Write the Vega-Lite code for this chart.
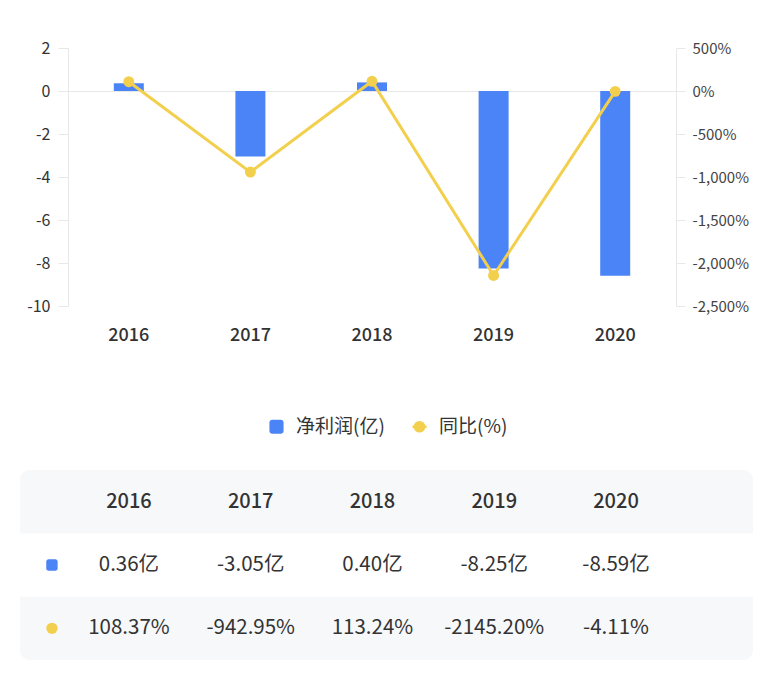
{
  "$schema": "https://vega.github.io/schema/vega-lite/v6.json",
  "background": "white",
  "padding": {"left": 20, "top": 40, "right": 0, "bottom": 0},
  "config": {
    "view": {"stroke": null},
    "font": "Noto Sans CJK SC",
    "axis": {"labelFont": "Noto Sans CJK SC", "titleFont": "Noto Sans CJK SC"},
    "legend": {"labelFont": "Noto Sans CJK SC"},
    "text": {"font": "Noto Sans CJK SC"}
  },
  "datasets": {
    "main": [
      {"year": "2016", "profit": 0.36, "yoy": 108.37},
      {"year": "2017", "profit": -3.05, "yoy": -942.95},
      {"year": "2018", "profit": 0.40, "yoy": 113.24},
      {"year": "2019", "profit": -8.25, "yoy": -2145.20},
      {"year": "2020", "profit": -8.59, "yoy": -4.11}
    ],
    "table": [
      {"year": "2016", "row": "header", "label": "2016"},
      {"year": "2017", "row": "header", "label": "2017"},
      {"year": "2018", "row": "header", "label": "2018"},
      {"year": "2019", "row": "header", "label": "2019"},
      {"year": "2020", "row": "header", "label": "2020"},
      {"year": "2016", "row": "profit", "label": "0.36亿"},
      {"year": "2017", "row": "profit", "label": "-3.05亿"},
      {"year": "2018", "row": "profit", "label": "0.40亿"},
      {"year": "2019", "row": "profit", "label": "-8.25亿"},
      {"year": "2020", "row": "profit", "label": "-8.59亿"},
      {"year": "2016", "row": "yoy", "label": "108.37%"},
      {"year": "2017", "row": "yoy", "label": "-942.95%"},
      {"year": "2018", "row": "yoy", "label": "113.24%"},
      {"year": "2019", "row": "yoy", "label": "-2145.20%"},
      {"year": "2020", "row": "yoy", "label": "-4.11%"}
    ],
    "dots": [
      {"row": "profit", "series": "净利润(亿)"},
      {"row": "yoy", "series": "同比(%)"}
    ]
  },
  "resolve": {"scale": {"color": "independent", "shape": "independent"}},
  "spacing": 33,
  "vconcat": [
    {
      "spacing": 0,
      "resolve": {"scale": {"color": "independent"}},
      "hconcat": [
        {
          "width": 1,
          "height": 1,
          "data": {"values": []},
          "mark": {"type": "text"},
          "encoding": {}
        },
        {
          "width": 608,
          "height": 258,
          "data": {"name": "main"},
          "resolve": {"scale": {"y": "independent"}},
          "layer": [
            {
              "mark": {"type": "bar", "size": 30},
              "encoding": {
                "x": {
                  "field": "year", "type": "ordinal",
                  "scale": {"type": "band", "paddingInner": 0, "paddingOuter": 0},
                  "axis": {"title": null, "labelAngle": 0, "domain": false, "ticks": false, "grid": false,
                           "labelPadding": 20, "labelFontSize": 18, "labelColor": "#333", "labelFontWeight": 500}
                },
                "y": {
                  "field": "profit", "type": "quantitative",
                  "scale": {"domain": [-10, 2], "nice": false},
                  "axis": {
                    "title": null, "orient": "left",
                    "values": [-10, -8, -6, -4, -2, 0, 2],
                    "labelExpr": "replace(datum.label, '\u2212', '-')",
                    "labelFontSize": 16, "labelColor": "#333", "labelPadding": 8,
                    "domainColor": "#e8e8e8", "tickColor": "#e8e8e8", "tickSize": 10,
                    "minExtent": 47, "maxExtent": 47,
                    "grid": true, "gridColor": "#e8e8e8",
                    "gridOpacity": {"condition": {"test": "datum.value === 0", "value": 1}, "value": 0}
                  }
                },
                "color": {
                  "datum": "净利润(亿)", "type": "nominal",
                  "scale": {"domain": ["净利润(亿)", "同比(%)"], "range": ["#4b84f6", "#f3cf4e"]},
                  "legend": {
                    "title": null, "orient": "none", "direction": "horizontal",
                    "legendX": 199, "legendY": 369,
                    "labelFontSize": 19, "labelColor": "#333", "labelOffset": 10,
                    "symbolSize": 200, "columnPadding": 22,
                    "encode": {
                      "symbols": {
                        "update": {
                          "shape": {"signal": "datum.value === '同比(%)' ? 'M-1,0L1,0M0.65,0A0.65,0.65,0,1,1,-0.65,0A0.65,0.65,0,1,1,0.65,0Z' : 'M-0.6,-1H0.6A0.4,0.4,0,0,1,1,-0.6V0.6A0.4,0.4,0,0,1,0.6,1H-0.6A0.4,0.4,0,0,1,-1,0.6V-0.6A0.4,0.4,0,0,1,-0.6,-1Z'"},
                          "fill": {"signal": "datum.value === '同比(%)' ? '#f3cf4e' : '#4b84f6'"},
                          "stroke": {"signal": "datum.value === '同比(%)' ? '#f3cf4e' : '#4b84f6'"},
                          "strokeWidth": {"signal": "datum.value === '同比(%)' ? 2.5 : 0"},
                          "opacity": {"value": 1},
                          "fillOpacity": {"value": 1}
                        }
                      }
                    }
                  }
                }
              }
            },
            {
              "mark": {"type": "line", "strokeWidth": 3, "point": {"filled": true, "size": 120, "opacity": 1}},
              "encoding": {
                "x": {"field": "year", "type": "ordinal"},
                "y": {
                  "field": "yoy", "type": "quantitative",
                  "scale": {"domain": [-2500, 500], "nice": false},
                  "axis": {
                    "title": null, "orient": "right",
                    "values": [-2500, -2000, -1500, -1000, -500, 0, 500],
                    "labelExpr": "replace(format(datum.value, ','), '\u2212', '-') + '%'",
                    "labelFontSize": 15, "labelColor": "#444", "labelPadding": 7,
                    "domainColor": "#e8e8e8", "tickColor": "#e8e8e8", "tickSize": 9,
                    "grid": false
                  }
                },
                "color": {"datum": "同比(%)", "type": "nominal"}
              }
            }
          ]
        }
      ]
    },
    {
      "width": 733,
      "height": 190,
      "view": {"fill": "#f7f8fa", "cornerRadius": 10, "stroke": null},
      "layer": [
        {
          "data": {"values": [{"row": "profit"}]},
          "mark": {"type": "rect", "color": "#ffffff"},
          "encoding": {
            "y": {"field": "row", "type": "nominal",
                  "scale": {"type": "band", "domain": ["header", "profit", "yoy"], "paddingInner": 0, "paddingOuter": 0},
                  "axis": null}
          }
        },
        {
          "data": {"name": "table"},
          "transform": [{"filter": "datum.row === 'header'"}],
          "mark": {"type": "text", "fontSize": 20, "fontWeight": 500, "color": "#333"},
          "encoding": {
            "x": {"field": "year", "type": "ordinal",
                  "scale": {"type": "band", "domain": ["2016", "2017", "2018", "2019", "2020"], "paddingInner": 0, "paddingOuter": 0.51, "align": 0.387},
                  "axis": null},
            "y": {"field": "row", "type": "nominal", "scale": {"type": "band"}, "axis": null},
            "text": {"field": "label"}
          }
        },
        {
          "data": {"name": "table"},
          "transform": [{"filter": "datum.row !== 'header'"}],
          "mark": {"type": "text", "fontSize": 20.5, "color": "#333"},
          "encoding": {
            "x": {"field": "year", "type": "ordinal",
                  "scale": {"type": "band", "domain": ["2016", "2017", "2018", "2019", "2020"], "paddingInner": 0, "paddingOuter": 0.51, "align": 0.387},
                  "axis": null},
            "y": {"field": "row", "type": "nominal", "scale": {"type": "band"}, "axis": null},
            "text": {"field": "label"}
          }
        },
        {
          "data": {"name": "dots"},
          "mark": {"type": "point", "filled": true, "size": 130, "opacity": 1, "xOffset": -77},
          "encoding": {
            "x": {"datum": "2016", "type": "ordinal",
                  "scale": {"type": "band", "domain": ["2016", "2017", "2018", "2019", "2020"], "paddingInner": 0, "paddingOuter": 0.51, "align": 0.387}},
            "y": {"field": "row", "type": "nominal", "scale": {"type": "band"}, "axis": null},
            "color": {"field": "series", "type": "nominal",
                      "scale": {"domain": ["净利润(亿)", "同比(%)"], "range": ["#4b84f6", "#f3cf4e"]},
                      "legend": null},
            "shape": {"field": "series", "type": "nominal",
                      "scale": {"domain": ["净利润(亿)", "同比(%)"], "range": ["M-0.6,-1H0.6A0.4,0.4,0,0,1,1,-0.6V0.6A0.4,0.4,0,0,1,0.6,1H-0.6A0.4,0.4,0,0,1,-1,0.6V-0.6A0.4,0.4,0,0,1,-0.6,-1Z", "circle"]},
                      "legend": null}
          }
        }
      ]
    }
  ]
}
